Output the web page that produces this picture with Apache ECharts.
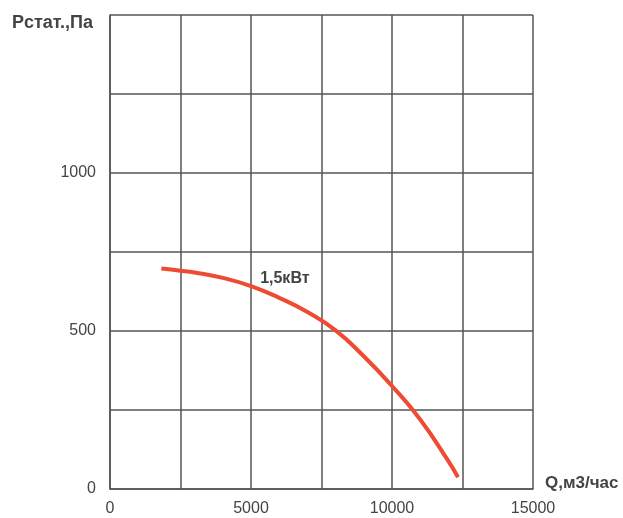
<!DOCTYPE html>
<html><head><meta charset="utf-8">
<script src="https://cdn.jsdelivr.net/npm/echarts@6/dist/echarts.min.js"></script>
<style>html,body{margin:0;padding:0;background:#fff}#c{width:623px;height:518px}</style>
</head><body><div id="c"></div>
<script>
const flow = [1820, 2500, 3000, 4000, 5000, 6000, 7000, 8000, 9000, 10000, 11000, 12000, 12340];
const pressure = [698, 691, 685, 668, 642, 605, 560, 502, 420, 326, 220, 88, 37];
const seriesName = '1,5кВт';
const xTicks = [0, 5000, 10000, 15000];
const yTicks = [0, 500, 1000];
const xName = 'Q,м3/час';
const yName = 'Pстат.,Па';

const chart = echarts.init(document.getElementById('c'), null, {renderer:'canvas'});
const grid = '#555';
const font = 'Liberation Sans, Arial, sans-serif';
chart.setOption({
  animation:false,
  grid:{left:110, right:90, top:15, bottom:29},
  xAxis:{type:'value', min:0, max:15000, interval:2500,
    axisLine:{show:true, lineStyle:{color:grid, width:1.5}},
    axisTick:{show:false},
    splitLine:{show:true, lineStyle:{color:grid, width:1.5}},
    axisLabel:{color:'#444', fontSize:16, fontFamily:font, margin:12,
      formatter:v=> xTicks.includes(v) ? String(v) : ''}},
  yAxis:{type:'value', min:0, max:1500, interval:250,
    axisLine:{show:true, lineStyle:{color:grid, width:1.5}},
    axisTick:{show:false},
    splitLine:{show:true, lineStyle:{color:grid, width:1.5}},
    axisLabel:{color:'#444', fontSize:16, fontFamily:font, margin:14,
      formatter:v=> yTicks.includes(v) ? String(v) : ''}},
  graphic:[
    {type:'text', left:12, top:14, style:{text:yName, fill:'#444', font:'bold 18px '+font}},
    {type:'text', left:545, top:475, style:{text:xName, fill:'#444', font:'bold 17px '+font}}
  ],
  series:[{
    type:'line', name:seriesName, smooth:0.5, showSymbol:false,
    data: flow.map((q,i)=>[q, pressure[i]]),
    lineStyle:{color:'#ef4b33', width:4},
    markPoint:{symbol:'circle', symbolSize:0,
      data:[{coord:[6200, 667], value:seriesName}],
      label:{show:true, formatter:seriesName, color:'#444', fontWeight:'bold', fontSize:16, fontFamily:font}}
  }]
});
</script></body></html>
